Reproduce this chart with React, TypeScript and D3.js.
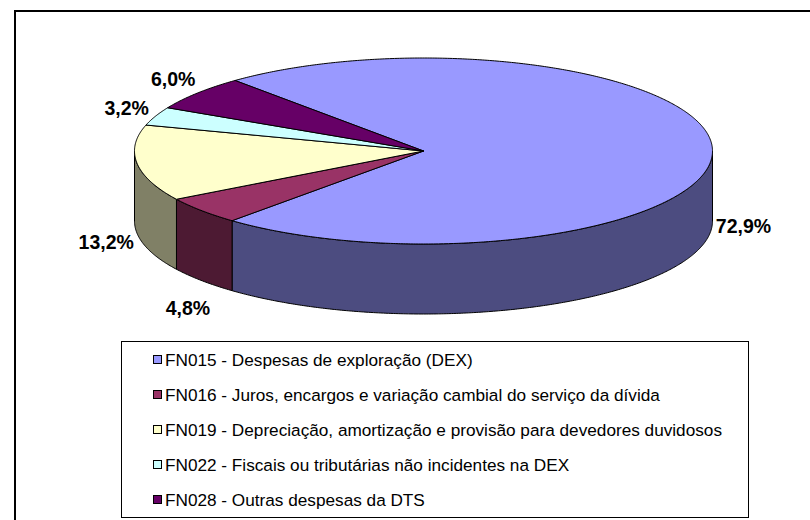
import React from "react";
import * as d3 from "d3";

const categories = [
  "FN015 - Despesas de exploração (DEX)",
  "FN016 - Juros, encargos e variação cambial do serviço da dívida",
  "FN019 - Depreciação, amortização e provisão para devedores duvidosos",
  "FN022 - Fiscais ou tributárias não incidentes na DEX",
  "FN028 - Outras despesas da DTS",
];
const values = [72.9, 4.8, 13.2, 3.2, 6.0];
const valueLabels = ["72,9%", "4,8%", "13,2%", "3,2%", "6,0%"];
const topColors = ["#9999FF", "#993366", "#FFFFCC", "#CCFFFF", "#660066"];
const sideColors = ["#4C4C80", "#4D1A33", "#808066", "#668080", "#330033"];

const W = 810;
const H = 520;
const cx = 423.5;
const cy = 151;
const rx = 289;
const ry = 93;
const depth = 70;
const startDeg = -40.7;

function pt(t: number, dy = 0): [number, number] {
  return [cx + rx * Math.sin(t), cy - ry * Math.cos(t) + dy];
}

function arcPts(a: number, b: number, dy = 0): [number, number][] {
  const n = Math.max(2, Math.ceil(Math.abs(b - a) / (Math.PI / 360)));
  const out: [number, number][] = [];
  for (let i = 0; i <= n; i++) out.push(pt(a + ((b - a) * i) / n, dy));
  return out;
}

const line = d3.line<[number, number]>();

export default function App() {
  const start = (startDeg * Math.PI) / 180;
  const pie = d3
    .pie<number>()
    .sort(null)
    .startAngle(start)
    .endAngle(start + 2 * Math.PI)(values);

  const sides: { d: string; color: string }[] = [];
  pie.forEach((s, i) => {
    for (let k = -1; k <= 1; k++) {
      const f0 = Math.PI / 2 + 2 * Math.PI * k;
      const f1 = (3 * Math.PI) / 2 + 2 * Math.PI * k;
      const a = Math.max(s.startAngle, f0);
      const b = Math.min(s.endAngle, f1);
      if (b > a) {
        const top = arcPts(a, b);
        const bottom = arcPts(b, a, depth);
        sides.push({ d: line([...top, ...bottom])! + "Z", color: sideColors[i] });
      }
    }
  });

  const tops = pie.map((s, i) => ({
    d: line([[cx, cy], ...arcPts(s.startAngle, s.endAngle)])! + "Z",
    color: topColors[i],
  }));

  const labels = pie.map((s, i) => {
    const t = (s.startAngle + s.endAngle) / 2;
    const c = Math.cos(t);
    const front = c < 0.05;
    return {
      x: cx + 320 * Math.sin(t) + (front && c < -0.3 ? 10 : 0),
      y: cy - (front ? 130 : 116) * c + (front ? depth + 4 : 0),
      text: valueLabels[i],
    };
  });

  const legendY = d3.scalePoint<string>().domain(categories).range([359.5, 499.5]);

  return (
    <svg
      width={W}
      height={H}
      style={{ position: "absolute", left: 0, top: 0 }}
      fontFamily="'Liberation Sans', Arial, sans-serif"
    >
      <rect x={0} y={0} width={W} height={H} fill="#fff" />
      <rect x={15} y={11} width={W + 20} height={H + 20} fill="none" stroke="#000" strokeWidth={2} />
      {sides.map((s, i) => (
        <path key={"s" + i} d={s.d} fill={s.color} stroke="#000" strokeWidth={1} strokeLinejoin="round" />
      ))}
      {tops.map((s, i) => (
        <path key={"t" + i} d={s.d} fill={s.color} stroke="#000" strokeWidth={1} strokeLinejoin="round" />
      ))}
      {labels.map((l, i) => (
        <text
          key={"l" + i}
          x={l.x}
          y={l.y}
          textAnchor="middle"
          dominantBaseline="central"
          fontWeight="bold"
          fontSize={19.5}
          fill="#000"
        >
          {l.text}
        </text>
      ))}
      <rect x={121.5} y={341.5} width={627} height={176} fill="#fff" stroke="#000" strokeWidth={1} />
      {categories.map((c, i) => (
        <g key={"lg" + i}>
          <rect x={153.5} y={legendY(c)! - 4} width={8} height={8} fill={topColors[i]} stroke="#000" strokeWidth={1} />
          <text x={165} y={legendY(c)! + 6} fontSize={17.2} fill="#000">
            {c}
          </text>
        </g>
      ))}
    </svg>
  );
}
